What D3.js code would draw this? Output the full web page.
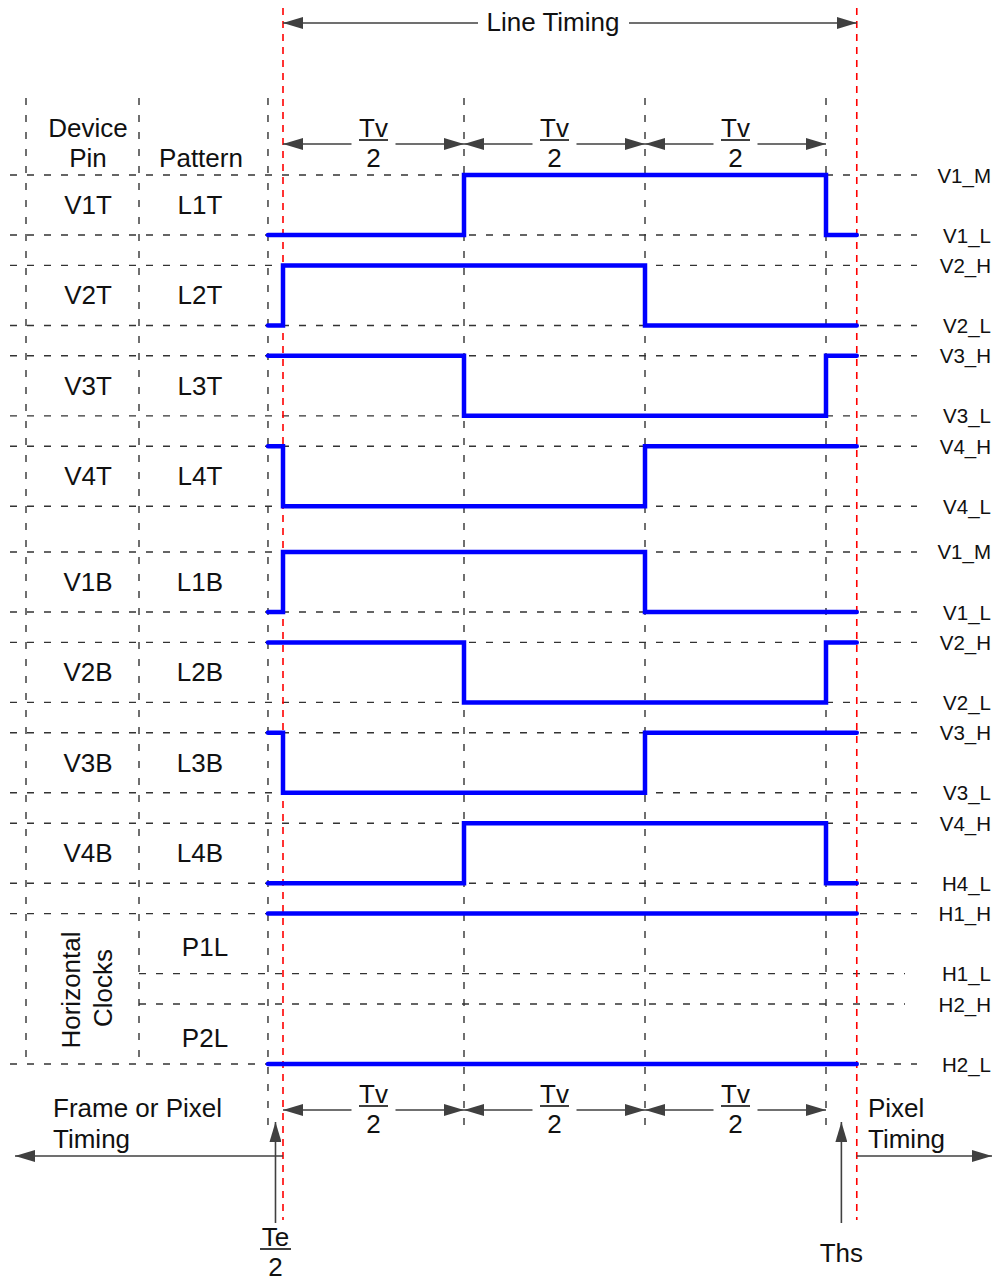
<!DOCTYPE html>
<html>
<head>
<meta charset="utf-8">
<script src="https://cdn.jsdelivr.net/npm/d3@7.9.0/dist/d3.min.js"></script>
<style>
  body { margin: 0; background: #fff; }
  svg { display: block; font-family: "Liberation Sans", Arial, sans-serif; }
</style>
</head>
<body>
<svg width="997" height="1283"></svg>
<script>
// time marks in units of Tv/2 (0 = Te/2 edge, 3 = start of Ths)
const timeMarks = [-0.083, 0, 1, 2, 3, 3.17];

const devicePins = ["V1T", "V2T", "V3T", "V4T", "V1B", "V2B", "V3B", "V4B"];
const patterns = ["L1T", "L2T", "L3T", "L4T", "L1B", "L2B", "L3B", "L4B", "P1L", "P2L"];
const highLabels = ["V1_M", "V2_H", "V3_H", "V4_H", "V1_M", "V2_H", "V3_H", "V4_H", "H1_H", "H2_H"];
const lowLabels = ["V1_L", "V2_L", "V3_L", "V4_L", "V1_L", "V2_L", "V3_L", "H4_L", "H1_L", "H2_L"];

// level (1 = high, 0 = low) in each segment between the time marks
const levels = [
  [0, 0, 1, 1, 0],
  [0, 1, 1, 0, 0],
  [1, 1, 0, 0, 1],
  [1, 0, 0, 1, 1],
  [0, 1, 1, 0, 0],
  [1, 1, 0, 0, 1],
  [1, 0, 0, 1, 1],
  [0, 0, 1, 1, 0],
  [1, 1, 1, 1, 1],
  [0, 0, 0, 0, 0]
];

const intervalLabel = ["Tv", "2"];

const svg = d3.select("svg");
const grey = "#333";
const arrowGrey = "#404040";
const FS = 26;

const x = d3.scaleLinear().domain([0, 3]).range([283, 826]);
const y = d3.scaleLinear().domain([0, 9.17]).range([175, 1004]);
const groupGap = 0.17, levelSpan = 0.664;
const rowTop = i => y(i + (i >= 4 ? groupGap : 0));
const rowLow = i => y(i + (i >= 4 ? groupGap : 0) + levelSpan);

// arrow marker
svg.append("defs").append("marker")
  .attr("id", "arr")
  .attr("viewBox", "0 0 20 12")
  .attr("refX", 20).attr("refY", 6)
  .attr("markerWidth", 20).attr("markerHeight", 12)
  .attr("markerUnits", "userSpaceOnUse")
  .attr("orient", "auto-start-reverse")
  .append("path").attr("d", "M0,0L20,6L0,12Z").attr("fill", arrowGrey);

const dashed = (x1, y1, x2, y2) => svg.append("line")
  .attr("x1", x1).attr("y1", y1).attr("x2", x2).attr("y2", y2)
  .attr("stroke", grey).attr("stroke-width", 1.4).attr("stroke-dasharray", "7,10");

// horizontal grid lines
levels.forEach((_, i) => {
  dashed(i === 9 ? 139 : 10, rowTop(i), i === 9 ? 905 : 917, rowTop(i));
  dashed(i === 8 ? 139 : 10, rowLow(i), i === 8 ? 905 : 917, rowLow(i));
});

// vertical grid lines
[26, 139].forEach(px => dashed(px, 98, px, rowLow(9)));
[timeMarks[0], 1, 2, 3].forEach(t => dashed(x(t), 98, x(t), 1130));

// red boundaries
[0, timeMarks[5]].forEach(t => svg.append("line")
  .attr("x1", x(t)).attr("x2", x(t)).attr("y1", 8).attr("y2", 1220)
  .attr("stroke", "#ff0000").attr("stroke-width", 1.6).attr("stroke-dasharray", "7,6"));

// waveforms
levels.forEach((lv, i) => {
  const pts = lv.map((v, k) => [x(timeMarks[k]), v ? rowTop(i) : rowLow(i)]);
  pts.push([x(timeMarks[5]), pts[pts.length - 1][1]]);
  svg.append("path")
    .attr("d", d3.line().curve(d3.curveStepAfter)(pts))
    .attr("fill", "none").attr("stroke", "#0000ff").attr("stroke-width", 4.5)
    .attr("stroke-linecap", "round").attr("stroke-linejoin", "miter");
});

const text = (str, px, py, anchor, size) => svg.append("text")
  .attr("x", px).attr("y", py).attr("text-anchor", anchor || "middle")
  .attr("font-size", size || FS).attr("fill", "#111").text(str);

// table
text("Device", 88, 137);
text("Pin", 88, 167);
text("Pattern", 201, 167);
devicePins.forEach((d, i) => text(d, 88, (rowTop(i) + rowLow(i)) / 2 + 9));
patterns.forEach((p, i) => text(p, i >= 8 ? 205 : 200,
  (rowTop(i) + rowLow(i)) / 2 + 9 + (i === 8 ? 3 : i === 9 ? 4 : 0)));
const hc = svg.append("text").attr("transform", "rotate(-90)")
  .attr("text-anchor", "middle").attr("font-size", FS).attr("fill", "#111");
hc.append("tspan").attr("x", -990).attr("y", 80).text("Horizontal");
hc.append("tspan").attr("x", -988).attr("y", 112).text("Clocks");

// right level labels
highLabels.forEach((l, i) => text(l, 991, rowTop(i) + 7.5, "end", 20.5));
lowLabels.forEach((l, i) => text(l, 991, rowLow(i) + 7.5, "end", 20.5));

const arrow = (x1, y1, x2, y2) => svg.append("line")
  .attr("x1", x1).attr("y1", y1).attr("x2", x2).attr("y2", y2)
  .attr("stroke", arrowGrey).attr("stroke-width", 1.6).attr("marker-end", "url(#arr)");

const fraction = (cx, ly, num, den, w) => {
  text(num, cx, ly - 3);
  svg.append("line").attr("x1", cx - w / 2).attr("x2", cx + w / 2)
    .attr("y1", ly).attr("y2", ly).attr("stroke", "#111").attr("stroke-width", 1.6);
  text(den, cx, ly + 27);
};

// Tv/2 interval arrows, top and bottom
[144, 1110].forEach(ay => {
  [0, 1, 2].forEach(k => {
    const a = x(k), b = x(k + 1), c = (a + b) / 2;
    arrow(c - 22, ay, a, ay);
    arrow(c + 22, ay, b, ay);
    fraction(c, ay - 4, intervalLabel[0], intervalLabel[1], 29);
  });
});

// line timing
arrow(478, 23, x(0), 23);
arrow(629, 23, x(timeMarks[5]), 23);
text("Line Timing", 553, 31);

// frame / pixel timing
text("Frame or Pixel", 53, 1117, "start");
text("Timing", 53, 1148, "start");
arrow(x(0), 1156, 15, 1156);
text("Pixel", 868, 1117, "start");
text("Timing", 868, 1148, "start");
arrow(x(timeMarks[5]), 1156, 992, 1156);

// Te/2 and Ths markers
const teX = (x(timeMarks[0]) + x(0)) / 2;
const thsX = (x(3) + x(timeMarks[5])) / 2;
arrow(teX, 1223, teX, 1122);
arrow(thsX, 1223, thsX, 1122);
fraction(teX, 1249, "Te", "2", 31);
text("Ths", thsX, 1262);
</script>
</body>
</html>
